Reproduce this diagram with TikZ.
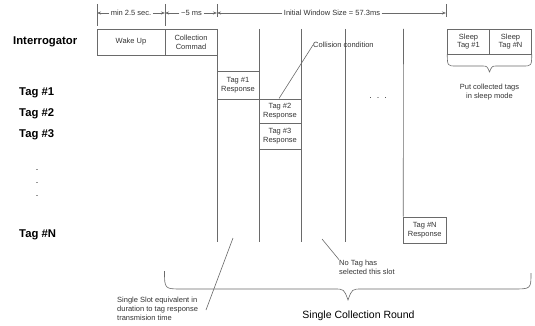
\documentclass[tikz,border=0pt]{standalone}
\usepackage{fontspec}
\setmainfont{Liberation Sans}
\usetikzlibrary{arrows.meta}
\definecolor{linec}{HTML}{6A6A6A}
\definecolor{txtc}{HTML}{333333}
\newcommand{\smf}{\fontsize{7.5}{8.8}\selectfont}
\newcommand{\bigf}{\fontsize{11.3}{13}\selectfont\bfseries}
\begin{document}
\begin{tikzpicture}[x=1pt,y=-1pt,
  ln/.style={draw=linec, line width=0.6pt},
  dim/.style={draw=linec, line width=0.6pt, -{Stealth[length=4pt,width=3pt]}},
  box/.style={draw=linec, line width=0.6pt, inner sep=0pt, align=center, font=\smf, text=txtc},
  lbl/.style={anchor=west, inner sep=0pt, font=\bigf, text=black},
  note/.style={anchor=west, inner sep=0pt, align=left, font=\smf, text=txtc},
  dimtxt/.style={fill=white, inner sep=1.5pt, font=\smf, text=txtc}]
\useasboundingbox (0,0) rectangle (535,326);

% dimension ticks
\coordinate (k1a) at (97,4);   \coordinate (k1b) at (97,26);
\coordinate (k2a) at (165,4);  \coordinate (k2b) at (165,26);
\coordinate (k3a) at (217,4);  \coordinate (k3b) at (217,17);
\coordinate (k4a) at (446,4);  \coordinate (k4b) at (446,17);
\draw[ln] (k1a) -- (k1b);
\draw[ln] (k2a) -- (k2b);
\draw[ln] (k3a) -- (k3b);
\draw[ln] (k4a) -- (k4b);
\coordinate (p1) at (97,13); \coordinate (p2) at (165,13);
\coordinate (p3) at (217,13); \coordinate (p4) at (446,13);
\node[dimtxt] (d1) at (131,13) {min 2.5 sec.};
\node[dimtxt] (d2) at (191.5,13) {\textasciitilde5 ms};
\node[dimtxt] (d3) at (332,13) {Initial Window Size = 57.3ms};
\draw[dim] (d1.west) -- (p1);
\draw[dim] (d1.east) -- (p2);
\draw[dim] (d2.west) -- (p2);
\draw[dim] (d2.east) -- (p3);
\draw[dim] (d3.west) -- (p3);
\draw[dim] (d3.east) -- (p4);

% row labels
\node[lbl] (lint) at (13,42) {Interrogator};
\node[lbl] (lt1) at (19,93) {Tag \#1};
\node[lbl] (lt2) at (19,114) {Tag \#2};
\node[lbl] (lt3) at (19,135) {Tag \#3};
\node[lbl] (ltn) at (19,235) {Tag \#N};
\node[inner sep=0pt, font=\fontsize{9}{10}\selectfont] (v1) at (37,170) {.};
\node[inner sep=0pt, font=\fontsize{9}{10}\selectfont] (v2) at (37,183) {.};
\node[inner sep=0pt, font=\fontsize{9}{10}\selectfont] (v3) at (37,196) {.};

% interrogator boxes
\node[box, minimum width=68, minimum height=26] (wake) at (131,42) {Wake Up};
\node[box, minimum width=52, minimum height=26] (coll) at (191,42) {Collection\\Commad};

% slot lines
\coordinate (s1t) at (217,29); \coordinate (s1b) at (217,242);
\coordinate (s2t) at (259,29); \coordinate (s2b) at (259,242);
\coordinate (s3t) at (301,29); \coordinate (s3b) at (301,242);
\coordinate (s4t) at (345,29); \coordinate (s4b) at (345,242);
\coordinate (s5t) at (403.5,29);
\draw[ln] (s1t) -- (s1b);
\draw[ln] (s2t) -- (s2b);
\draw[ln] (s3t) -- (s3b);
\draw[ln] (s4t) -- (s4b);

% tag responses
\node[box, minimum width=42, minimum height=28] (r1) at (238,85) {Tag \#1\\Response};
\node[box, minimum width=42, minimum height=24] (r2) at (280,111) {Tag \#2\\Response};
\node[box, minimum width=42, minimum height=26] (r3) at (280,136) {Tag \#3\\Response};
\node[box, minimum width=42.5, minimum height=26] (rn) at (424.75,230) {Tag \#N\\Response};
\draw[ln] (s5t) -- (rn.north west);

\node[inner sep=0pt, font=\fontsize{9}{10}\selectfont, text=txtc] (dots) at (378,98) {.\ \ .\ \ .};

% sleep boxes
\node[box, minimum width=42, minimum height=25] (sl1) at (468.5,41.5) {Sleep\\Tag \#1};
\node[box, minimum width=42, minimum height=25] (sln) at (510.5,41.5) {Sleep\\Tag \#N};
\draw[ln] (sl1.south west) .. controls (447.5,66) .. (456,66) -- (482,66)
  .. controls (487,66) .. (489.5,72) .. controls (492,66) .. (497,66) -- (523,66)
  .. controls (531.5,66) .. (sln.south east);
\node[anchor=north, inner sep=0pt, align=center, font=\smf, text=txtc] (sleeptxt) at (489.5,84) {Put collected tags\\in sleep mode};

% collision
\node[note] (colltxt) at (313,45) {Collision condition};
\coordinate (collp) at (279,98.5);
\draw[ln] (colltxt.west) -- (collp);

% no tag
\node[note] (notag) at (339,267) {No Tag has\\selected this slot};
\coordinate (notagp) at (322,239);
\draw[ln] (notagp) -- (notag.north west);

% single slot
\node[note, anchor=north west] (slot) at (117,297) {Single Slot equivalent in\\duration to tag response\\transmision time};
\coordinate (slotp) at (233,238);
\coordinate (slote) at (206,310);
\draw[ln] (slotp) -- (slote);

% big brace
\coordinate (bl) at (164.5,271); \coordinate (br) at (531,273);
\draw[ln] (bl) .. controls (164.5,289) .. (182,289) -- (334,289)
  .. controls (344,289) .. (348,300) .. controls (352,289) .. (362,289) -- (513,289)
  .. controls (531,289) .. (br);
\node[inner sep=0pt, font=\fontsize{10.5}{12}\selectfont, text=black] (round) at (358.5,316) {Single Collection Round};
\end{tikzpicture}
\end{document}
